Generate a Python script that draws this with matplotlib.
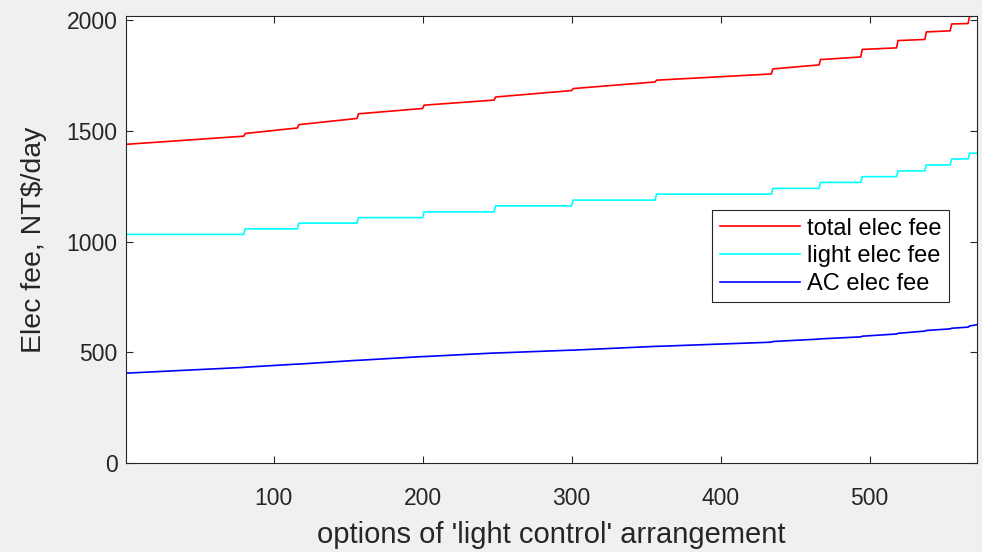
import matplotlib
matplotlib.use("Agg")
import matplotlib.pyplot as plt

plt.rcParams["font.family"] = ["Liberation Sans", "DejaVu Sans"]

# Breakpoints (option index) where the light fee changes level
options = [1, 80, 81, 116, 117, 156, 157, 200, 201, 248, 249, 300, 301, 356, 357,
           434, 435, 466, 467, 494, 495, 518, 519, 537, 538, 554, 555, 566, 567, 572]

total_fee = [1440, 1477, 1489, 1514, 1529, 1557, 1578, 1602, 1617, 1640, 1654, 1683,
             1692, 1722, 1730, 1758, 1781, 1799, 1823, 1835, 1869, 1876, 1909, 1914,
             1948, 1953, 1984, 1986, 2018, 2020]

light_fee = [1033, 1033, 1058, 1058, 1084, 1084, 1109, 1109, 1135, 1135, 1162, 1162,
             1188, 1188, 1215, 1215, 1241, 1241, 1268, 1268, 1294, 1294, 1320, 1320,
             1347, 1347, 1374, 1374, 1400, 1400]

ac_fee = [406, 432, 433, 447, 447, 464, 464, 481, 481, 497, 497, 510, 510, 527, 527,
          546, 549, 560, 561, 570, 573, 583, 586, 596, 599, 606, 609, 614, 619, 625]

series_names = ["total elec fee", "light elec fee", "AC elec fee"]
x_ticks = [100, 200, 300, 400, 500]
y_ticks = [0, 500, 1000, 1500, 2000]

W, H = 982, 552
fig = plt.figure(figsize=(W / 100, H / 100), dpi=100, facecolor="#f0f0f0")
ax = fig.add_axes([126 / W, (H - 463) / H, (977 - 126) / W, (463 - 16) / H])
ax.set_facecolor("white")

ax.plot(options, total_fee, color="#ff0000", lw=1.2, label=series_names[0])
ax.plot(options, light_fee, color="#00ffff", lw=1.2, label=series_names[1])
ax.plot(options, ac_fee, color="#0000ff", lw=1.2, label=series_names[2])

ax.set_xlim(options[0], options[-1])
ax.set_ylim(0, max(total_fee))
ax.set_xticks(x_ticks)
ax.set_yticks(y_ticks)

edge = "#262626"
for s in ax.spines.values():
    s.set_color(edge)
    s.set_linewidth(0.8)
ax.tick_params(direction="in", length=5, width=0.8, colors=edge, labelsize=16.5,
               top=True, right=True, labelcolor=edge)
ax.tick_params(axis="x", pad=17)
ax.tick_params(axis="y", pad=6)

ax.set_xlabel("options of 'light control' arrangement", fontsize=21, color=edge, labelpad=8)
ax.set_ylabel("Elec fee, NT$/day", fontsize=20.5, color=edge, labelpad=14)

leg = ax.legend(loc="upper left", bbox_to_anchor=((712 - 126) / (977 - 126), (463 - 210) / (463 - 16)),
                fontsize=17, frameon=True, fancybox=False, framealpha=1, edgecolor=edge,
                handlelength=3.4, borderpad=0.32, labelspacing=0.24, handletextpad=0.3,
                borderaxespad=0)
leg.get_frame().set_linewidth(0.8)

fig.savefig("out.png", dpi=100, facecolor=fig.get_facecolor())
